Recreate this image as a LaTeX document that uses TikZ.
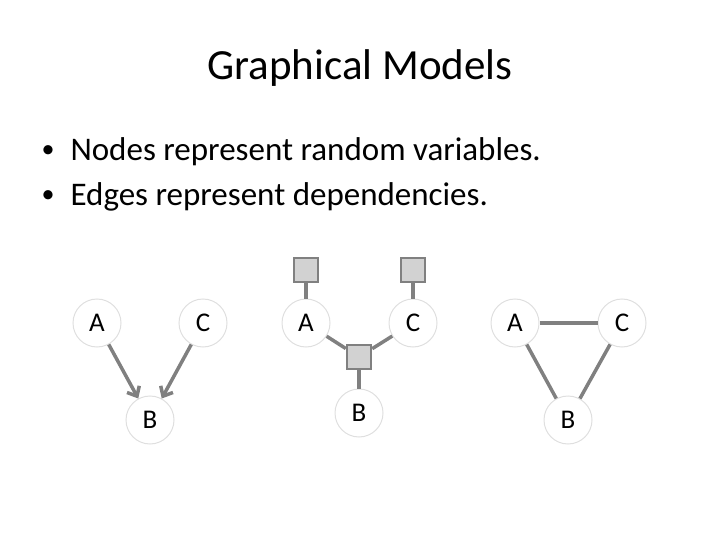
\documentclass[tikz,border=0pt]{standalone}
\usepackage{fontspec}
\setmainfont{Carlito}
\usetikzlibrary{arrows.meta}
\begin{document}
\begin{tikzpicture}[x=1pt,y=-1pt,
  var/.style={circle,draw=gray!25,line width=1pt,minimum size=48pt,inner sep=0pt,font=\fontsize{27}{30}\selectfont},
  fac/.style={rectangle,draw=gray,fill=gray!35,line width=2.5pt,minimum size=24pt,inner sep=0pt},
  link/.style={draw=gray,line width=3.5pt},
  arr/.style={link,-{Straight Barb[length=8pt,width=14pt]}},
  bul/.style={anchor=west,font=\fontsize{33}{36}\selectfont}]
\useasboundingbox (0,0) rectangle (720,540);
\node (title) at (360,68) {\fontsize{43}{48}\selectfont Graphical Models};
\node[bul,font=\fontsize{26}{30}\selectfont] (d1) at (38,152) {•};
\node[bul] (b1) at (67,152) {Nodes represent random variables.};
\node[bul,font=\fontsize{26}{30}\selectfont] (d2) at (38,197) {•};
\node[bul] (b2) at (67,197) {Edges represent dependencies.};
% left
\node[var] (la) at (97,323) {A};
\node[var] (lc) at (203,323) {C};
\node[var] (lb) at (150,420) {B};
\draw[arr] (la) -- (lb);
\draw[arr] (lc) -- (lb);
% middle
\node[var] (ma) at (306,323) {A};
\node[var] (mc) at (413,323) {C};
\node[var] (mb) at (359,413) {B};
\node[fac] (fa) at (306,270) {};
\node[fac] (fc) at (413,270) {};
\node[fac] (fm) at (359,357) {};
\draw[link] (fa) -- (ma);
\draw[link] (fc) -- (mc);
\draw[link] (ma) -- (fm);
\draw[link] (mc) -- (fm);
\draw[link] (fm) -- (mb);
% right
\node[var] (ra) at (515,323) {A};
\node[var] (rc) at (622,323) {C};
\node[var] (rb) at (568,420) {B};
\draw[link] (ra) -- (rc);
\draw[link] (rc) -- (rb);
\draw[link] (ra) -- (rb);
\end{tikzpicture}
\end{document}
